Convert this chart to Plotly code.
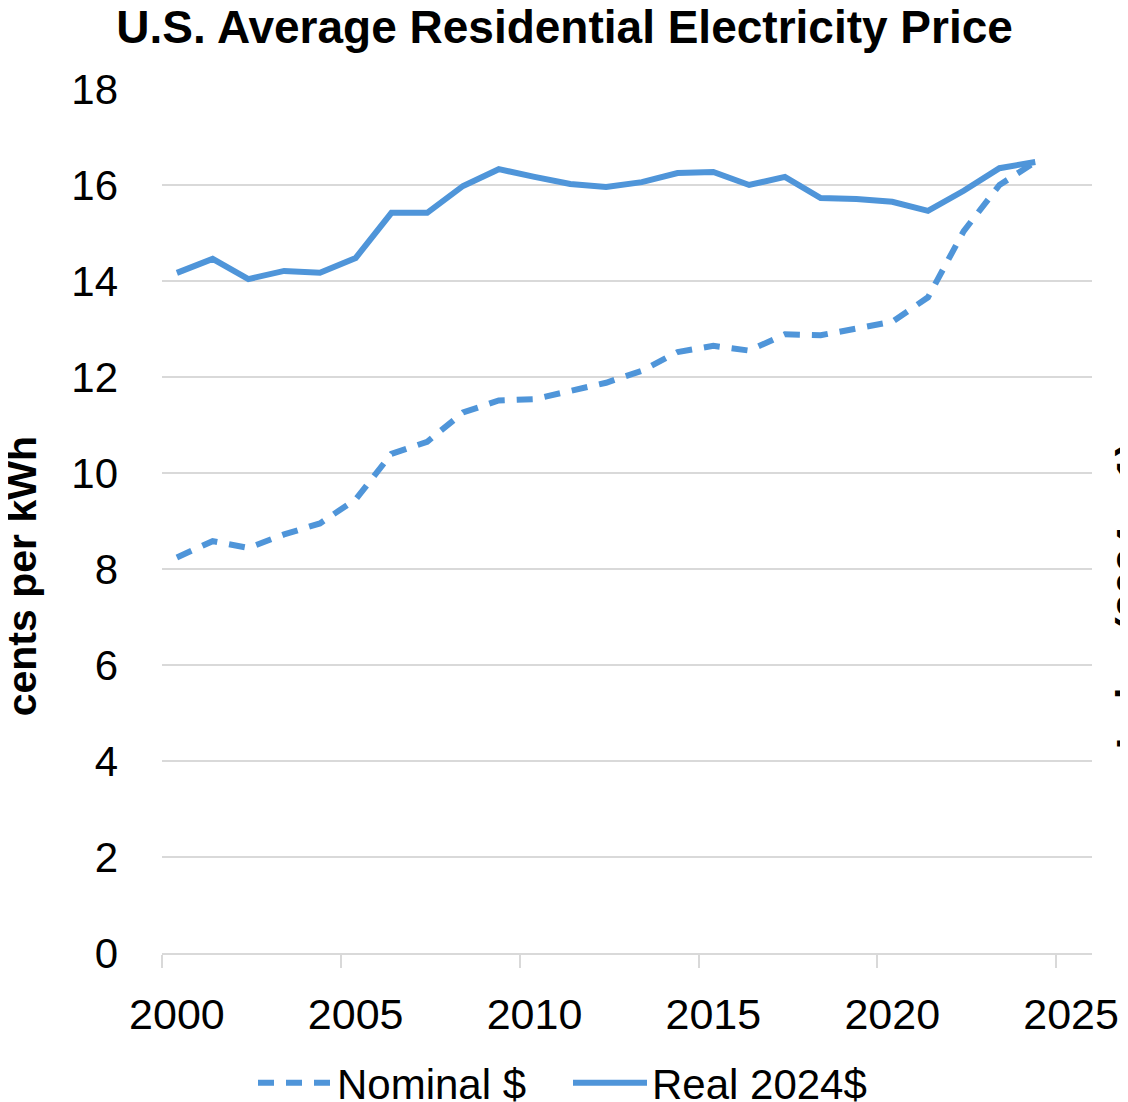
import plotly.graph_objects as go

# DATA (cents per kWh, U.S. average residential)
years = list(range(2000, 2025))
nominal = [8.24, 8.58, 8.44, 8.72, 8.95, 9.45, 10.40, 10.65, 11.26, 11.51,
           11.54, 11.72, 11.88, 12.13, 12.52, 12.65, 12.55, 12.89, 12.87, 13.01,
           13.15, 13.66, 15.04, 16.00, 16.48]
real_2024 = [14.17, 14.46, 14.04, 14.21, 14.17, 14.48, 15.42, 15.42, 15.98, 16.33,
             16.17, 16.02, 15.96, 16.06, 16.25, 16.27, 16.00, 16.17, 15.73, 15.71,
             15.65, 15.46, 15.88, 16.35, 16.48]
dates = [f"{y}-06-01" for y in years]

COLORS = {
    "line": "#4F95D9",
    "grid": "#D9D9D9",
    "text": "#000000",
}
FONT = "Liberation Sans, Arial, sans-serif"

# the page body adds an 8px margin, so the figure is 8px smaller each way
fig = go.Figure()

fig.add_trace(go.Scatter(
    x=dates, y=nominal, mode="lines", name="Nominal $",
    line=dict(color=COLORS["line"], width=6, dash="16px,12px"),
))
fig.add_trace(go.Scatter(
    x=dates, y=real_2024, mode="lines", name="Real 2024$",
    line=dict(color=COLORS["line"], width=6),
))

fig.update_layout(
    width=1120,
    height=1094,
    paper_bgcolor="white",
    plot_bgcolor="white",
    font=dict(family=FONT, size=42, color=COLORS["text"]),
    margin=dict(l=154, r=36, t=81, b=149, autoexpand=False),
    title=dict(
        text="<b>U.S. Average Residential Electricity Price</b>",
        font=dict(size=46),
        xref="container", x=0.497, xanchor="center",
        yref="container", y=0.9826, yanchor="middle",
    ),
    legend=dict(
        orientation="h",
        xref="container", x=0.500, xanchor="center",
        yref="container", y=0.0174, yanchor="middle",
        font=dict(size=42),
        itemwidth=74,
        entrywidth=226,
    ),
    annotations=[
        dict(
            text="<b>cents per kWh</b>", textangle=-90,
            xref="paper", x=0, xshift=-140, xanchor="center",
            yref="paper", y=0.436, yanchor="middle",
            showarrow=False, font=dict(size=41),
        ),
        dict(
            text="<b>Index (2024 = 1)</b>", textangle=-90,
            xref="paper", x=1, xshift=39, xanchor="center",
            yref="paper", y=0.413, yanchor="middle",
            showarrow=False, font=dict(size=41),
        ),
    ],
)

# year labels sit under the mid-year points, tick marks at the year starts
fig.update_xaxes(
    type="date",
    range=["2000-01-01", "2026-01-01"],
    tick0="2000-06-01",
    dtick="M60",
    tickformat="%Y",
    tickfont=dict(size=43),
    ticks="",
    minor=dict(
        tick0="2000-01-01",
        dtick="M60",
        ticks="outside",
        ticklen=13,
        tickwidth=2,
        tickcolor=COLORS["grid"],
        showgrid=False,
    ),
    showgrid=False,
    showline=True,
    linecolor=COLORS["grid"],
    linewidth=2,
    ticklabelstandoff=22,
    zeroline=False,
    automargin=False,
)
fig.update_yaxes(
    range=[0, 18],
    dtick=2,
    showgrid=True,
    gridcolor=COLORS["grid"],
    gridwidth=2,
    zeroline=False,
    showline=False,
    ticklabelstandoff=43,
    automargin=False,
)

fig.write_html("out.html")
